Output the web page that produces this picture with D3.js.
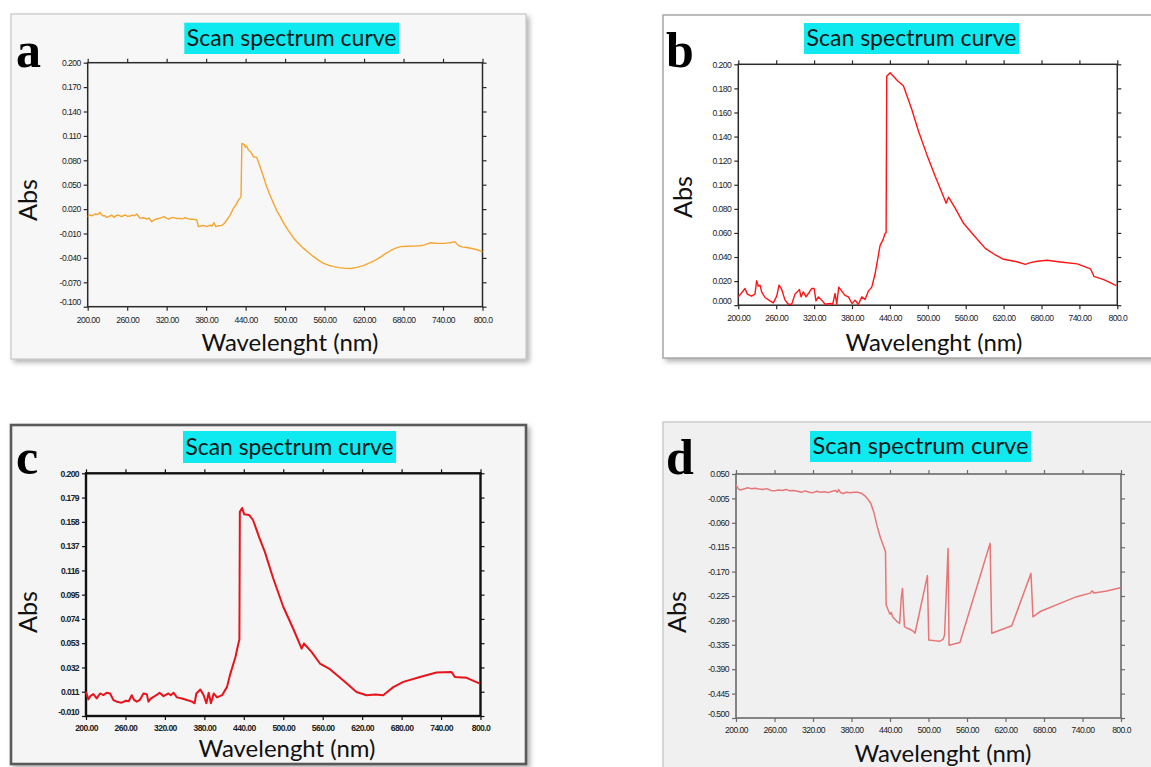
<!DOCTYPE html>
<html><head><meta charset="utf-8">
<script src="https://cdn.jsdelivr.net/npm/d3@7"></script>
<style>body{margin:0;background:#fff;} svg{display:block;}</style>
</head><body>
<svg id="chart" width="1151" height="767"></svg>
<script>
// ---------- data ----------
const chartTitle = "Scan spectrum curve";
const xAxisTitle = "Wavelenght (nm)";
const yAxisTitle = "Abs";
const panelLetters = ["a", "b", "c", "d"];

const xTickValues = [200, 260, 320, 380, 440, 500, 560, 620, 680, 740, 800];
const xTickLabels = ["200.00", "260.00", "320.00", "380.00", "440.00", "500.00", "560.00", "620.00", "680.00", "740.00", "800.0"];

const yTicksA = [0.200, 0.170, 0.140, 0.110, 0.080, 0.050, 0.020, -0.010, -0.040, -0.070, -0.100];
const yLabelsA = ["0.200", "0.170", "0.140", "0.110", "0.080", "0.050", "0.020", "-0.010", "-0.040", "-0.070", "-0.100"];
const yTicksB = [0.200, 0.180, 0.160, 0.140, 0.120, 0.100, 0.080, 0.060, 0.040, 0.020, 0.000];
const yLabelsB = ["0.200", "0.180", "0.160", "0.140", "0.120", "0.100", "0.080", "0.060", "0.040", "0.020", "0.000"];
const yTicksC = [0.200, 0.179, 0.158, 0.137, 0.116, 0.095, 0.074, 0.053, 0.032, 0.011, -0.010];
const yLabelsC = ["0.200", "0.179", "0.158", "0.137", "0.116", "0.095", "0.074", "0.053", "0.032", "0.011", "-0.010"];
const yTicksD = [0.050, -0.005, -0.060, -0.115, -0.170, -0.225, -0.280, -0.335, -0.390, -0.445, -0.500];
const yLabelsD = ["0.050", "-0.005", "-0.060", "-0.115", "-0.170", "-0.225", "-0.280", "-0.335", "-0.390", "-0.445", "-0.500"];

const wavelengthA = [200,203.5,207,211,215,218.8,221,223.8,226,229,233,236.5,240,243,246.6,251.7,256.8,260,264.4,268,271,274.6,279.6,284.6,289.8,293,297.4,301,305,310,316,319,322.8,326,330.4,335,340.5,344,348,352,355.7,360,365.8,368.4,372,376,381,386,389,392,394.7,399,403.8,407,411.5,416,421.6,426,429,433,434.3,437.6,439.5,441.7,444.2,448,451.8,456.9,462,467,472,477,482.5,487,492.6,497,502.7,509,515.4,522,528,535,543.3,550,558.5,566,573.7,582,591.5,600,609,619,629.5,638,645,652,660,668,676,686,695.7,705,711,716,721.5,729,736,742.4,748,752.8,758,763,768.5,776,784,792,800];
const absA = [0.0107,0.0127,0.0118,0.0140,0.0132,0.0160,0.0128,0.0115,0.0120,0.0098,0.0112,0.0127,0.0098,0.0118,0.0127,0.0107,0.0130,0.0112,0.0115,0.0125,0.0118,0.0140,0.0086,0.0094,0.0078,0.0090,0.0045,0.0068,0.0078,0.0090,0.0107,0.0092,0.0078,0.0090,0.0098,0.0084,0.0086,0.0080,0.0094,0.0082,0.0074,0.0076,0.0066,-0.0016,-0.0008,0.0000,-0.0016,0.0004,-0.0010,0.0033,-0.0016,-0.0004,0.0000,0.0020,0.0066,0.0120,0.0210,0.0265,0.0310,0.0350,0.1008,0.0996,0.0960,0.0975,0.0926,0.0900,0.0844,0.0836,0.0720,0.0600,0.0475,0.0370,0.0270,0.0185,0.0107,0.0040,-0.0037,-0.0110,-0.0180,-0.0235,-0.0283,-0.0330,-0.0385,-0.0425,-0.0467,-0.0490,-0.0508,-0.0520,-0.0529,-0.0530,-0.0516,-0.0495,-0.0459,-0.0425,-0.0390,-0.0350,-0.0312,-0.0280,-0.0262,-0.0256,-0.0255,-0.0250,-0.0243,-0.0228,-0.0214,-0.0220,-0.0222,-0.0222,-0.0215,-0.0210,-0.0200,-0.0245,-0.0264,-0.0272,-0.0284,-0.0300,-0.0325];

const wavelengthB = [200,205.3,210.6,214.3,221,226.4,229,231.7,234.3,237,242.3,250.2,255.5,260.8,264.5,268.7,274,279.2,284.5,289.8,293.5,296.7,299.3,303,307.2,311,316.2,320,323,326.8,332,337.4,345.3,349.5,353.2,355.8,359,363.8,369,374.3,380,385,390,395.5,400.7,406,411.3,416.6,424.5,428.8,432.5,434,435,440.3,445.6,450.9,461.5,474.7,485.3,498.5,511.7,525,529,532.8,543.3,556.6,572.4,591,607,620,641,654.5,662.3,673.3,689,710,736.6,757.7,763,778.5,798.6];
const absB = [0.0069,0.0103,0.0139,0.0092,0.0075,0.0092,0.0203,0.0158,0.0167,0.0111,0.0064,0.0036,0.0019,0.0075,0.0167,0.0131,0.0042,0.0008,0.0008,0.0092,0.0111,0.0131,0.0069,0.0111,0.0069,0.0097,0.0139,0.0139,0.0036,0.0069,0.0042,0.0008,0.0014,0.0008,0.0097,0.0008,0.0150,0.0117,0.0081,0.0069,0.0014,0.0042,0.0006,0.0069,0.0047,0.0117,0.0150,0.0261,0.0497,0.0540,0.0597,0.0603,0.1900,0.1930,0.1900,0.1870,0.1820,0.1625,0.1444,0.1250,0.1070,0.0900,0.0847,0.0897,0.0806,0.0680,0.0583,0.0472,0.0417,0.0381,0.0361,0.0339,0.0353,0.0365,0.0373,0.0359,0.0343,0.0301,0.0240,0.0213,0.0163];

const wavelengthC = [200,203.6,207,211.2,216.3,221.4,226.4,231.5,236.6,241.7,246.8,254.4,260.6,265,269.6,273,277.3,282,287.4,292.5,295,298.5,302.7,307,311.8,317.9,322,325.6,329,333.2,338.3,346,353.5,361.2,365.2,367.8,373.9,379,383,386.6,390,394.2,399.3,407,414.5,419.6,427.3,432.3,433.3,434,437.5,440.6,448,454,464,472,484.8,500,515,528,531.4,543,555.8,571,591,611.5,626.7,640,652,667.4,682.6,708,733,756,761,779,799];
const absC = [0.0109,0.0044,0.0075,0.0089,0.0052,0.0095,0.0081,0.0101,0.0095,0.0038,0.0024,0.0015,0.0032,0.0028,0.0080,0.0040,0.0024,0.0040,0.0095,0.0089,0.0024,0.0050,0.0066,0.0080,0.0101,0.0072,0.0085,0.0095,0.0080,0.0101,0.0061,0.0052,0.0038,0.0024,0.0010,0.0095,0.0129,0.0080,0.0010,0.0101,0.0010,0.0095,0.0061,0.0080,0.0152,0.0267,0.0410,0.0540,0.0560,0.1668,0.1700,0.1645,0.1640,0.1596,0.1437,0.1320,0.1090,0.0845,0.0657,0.0483,0.0527,0.0455,0.0354,0.0305,0.0210,0.0108,0.0080,0.0085,0.0080,0.0150,0.0195,0.0238,0.0276,0.0280,0.0238,0.0230,0.0180];

const wavelengthD = [200,203,206,212,218,224,230,236,242,248,254,260,266,272,278,284,290,296,302,308,314,320,326,332,338,344,350,355,358,360,363,367,372,378,384,390,396,400,405,410,415,420,425,430,433,434,437,440,442,444,448,452,455,457.5,459.5,460.5,462.5,466,471,476,479,498.3,500.4,510,518,523,525,530.5,532,549,596,598.6,629.8,659.7,662.8,674,705,731,752,755,758,778,799];
const absD = [0.025,0.018,0.014,0.016,0.019,0.017,0.018,0.016,0.015,0.017,0.013,0.012,0.014,0.013,0.015,0.012,0.013,0.011,0.009,0.012,0.009,0.008,0.011,0.009,0.010,0.008,0.011,0.013,0.009,0.015,0.008,0.006,0.009,0.008,0.009,0.009,0.006,0.002,-0.006,-0.016,-0.037,-0.068,-0.093,-0.113,-0.125,-0.245,-0.256,-0.266,-0.262,-0.272,-0.278,-0.284,-0.287,-0.230,-0.208,-0.238,-0.294,-0.297,-0.300,-0.304,-0.309,-0.179,-0.324,-0.326,-0.327,-0.322,-0.313,-0.118,-0.336,-0.330,-0.106,-0.309,-0.292,-0.174,-0.272,-0.260,-0.2415,-0.2265,-0.2185,-0.2135,-0.218,-0.2137,-0.2062];

// ---------- layout / style ----------
const panels = [
  { letter: panelLetters[0], xs: wavelengthA, ys: absA, yTicks: yTicksA, yLabels: yLabelsA, yDomain: [-0.100, 0.200],
    frame: {x: 11, y: 14, w: 515, h: 345, fill: "#f7f7f7", stroke: "#c6c6c6", sw: 1.2},
    plot: {l: 87.7, r: 482.5, t: 62.7, b: 306.7},
    title: {x: 184.3, y: 22.7, w: 214.7, h: 31.3},
    letterPos: {x: 16, y: 67}, absPos: {x: 28, y: 200}, xlab: {cx: 290, y: 351}, xtickY: 323,
    line: "#f6a531", lw: 1.4, axis: "#2a2a2a", aw: 1.5, bold: false },
  { letter: panelLetters[1], xs: wavelengthB, ys: absB, yTicks: yTicksB, yLabels: yLabelsB, yDomain: [0.000, 0.200],
    frame: {x: 663, y: 15, w: 500, h: 343, fill: "#ffffff", stroke: "#a8a8a8", sw: 1.5},
    plot: {l: 738.3, r: 1117.3, t: 64.3, b: 305.2},
    title: {x: 804, y: 23, w: 215, h: 31},
    letterPos: {x: 666, y: 67}, absPos: {x: 683, y: 197}, xlab: {cx: 934, y: 351}, xtickY: 321,
    line: "#ff1414", lw: 1.4, axis: "#2a2a2a", aw: 1.5, bold: false },
  { letter: panelLetters[2], xs: wavelengthC, ys: absC, yTicks: yTicksC, yLabels: yLabelsC, yDomain: [-0.010, 0.200],
    frame: {x: 11, y: 425, w: 515, h: 339, fill: "#f5f5f5", stroke: "#5a5a5a", sw: 2.6},
    plot: {l: 86, r: 480.5, t: 473.3, b: 716},
    title: {x: 183, y: 431, w: 213, h: 32},
    letterPos: {x: 16, y: 474}, absPos: {x: 28, y: 612}, xlab: {cx: 287, y: 757}, xtickY: 731,
    line: "#e8141c", lw: 2, axis: "#111111", aw: 2.4, bold: true },
  { letter: panelLetters[3], xs: wavelengthD, ys: absD, yTicks: yTicksD, yLabels: yLabelsD, yDomain: [-0.500, 0.050],
    frame: {x: 663, y: 422, w: 500, h: 360, fill: "#f0f0f0", stroke: "#c4c4c4", sw: 1.2},
    plot: {l: 736, r: 1121, t: 474, b: 718},
    title: {x: 810, y: 431, w: 221, h: 31},
    letterPos: {x: 666, y: 474}, absPos: {x: 677, y: 612}, xlab: {cx: 943, y: 762}, xtickY: 733,
    line: "#e87676", lw: 1.5, axis: "#6a6a6a", aw: 1.6, bold: false }
];

const svg = d3.select("#chart");
svg.append("rect").attr("width", 1151).attr("height", 767).attr("fill", "#ffffff");
const defs = svg.append("defs");
const f = defs.append("filter").attr("id", "shadow").attr("x", "-5%").attr("y", "-5%").attr("width", "115%").attr("height", "115%");
f.append("feDropShadow").attr("dx", 3).attr("dy", 3).attr("stdDeviation", 2.5)
  .attr("flood-color", "#777").attr("flood-opacity", 0.55);

function fit(sel, target) {
  const w = sel.node().getComputedTextLength();
  const fs = parseFloat(sel.attr("font-size"));
  sel.attr("font-size", fs * target / w);
}

panels.forEach(p => {
  const g = svg.append("g");
  const fr = p.frame;
  g.append("rect").attr("x", fr.x).attr("y", fr.y).attr("width", fr.w).attr("height", fr.h)
    .attr("fill", fr.fill).attr("stroke", fr.stroke).attr("stroke-width", fr.sw).attr("filter", "url(#shadow)");

  const x = d3.scaleLinear().domain([200, 800]).range([p.plot.l, p.plot.r]);
  const y = d3.scaleLinear().domain(p.yDomain).range([p.plot.b, p.plot.t]);

  const tickFont = "'Liberation Sans', Arial, sans-serif";
  const styleAxis = (ax) => {
    ax.select(".domain").remove();
    ax.selectAll(".tick line").attr("stroke", p.axis).attr("stroke-width", 1.2);
    ax.selectAll(".tick text").attr("fill", "#222").attr("font-family", tickFont)
      .attr("font-size", p.bold ? 8.6 : 8.6).attr("font-weight", p.bold ? "bold" : "normal")
      .attr("letter-spacing", p.bold ? "-0.6px" : "-0.55px");
  };

  // left
  const axL = g.append("g").attr("transform", `translate(${p.plot.l},0)`)
    .call(d3.axisLeft(y).tickValues(p.yTicks).tickFormat((d, i) => p.yLabels[i]).tickSize(4).tickSizeOuter(0).tickPadding(3));
  styleAxis(axL);
  axL.selectAll(".tick text").filter((d, i) => i === p.yTicks.length - 1).attr("dy", "-0.2em");
  // right
  const axR = g.append("g").attr("transform", `translate(${p.plot.r},0)`)
    .call(d3.axisRight(y).tickValues(p.yTicks).tickFormat("").tickSize(4).tickSizeOuter(0));
  styleAxis(axR);
  // bottom
  const axB = g.append("g").attr("transform", `translate(0,${p.plot.b})`)
    .call(d3.axisBottom(x).tickValues(xTickValues).tickFormat((d, i) => xTickLabels[i]).tickSize(4).tickSizeOuter(0).tickPadding(3));
  styleAxis(axB);
  axB.selectAll(".tick text").attr("y", null).attr("dy", null)
    .attr("transform", `translate(0,${p.xtickY - p.plot.b})`);
  // top
  const axT = g.append("g").attr("transform", `translate(0,${p.plot.t})`)
    .call(d3.axisTop(x).tickValues(xTickValues).tickFormat("").tickSize(4).tickSizeOuter(0));
  styleAxis(axT);

  // plot frame
  g.append("rect").attr("x", p.plot.l).attr("y", p.plot.t)
    .attr("width", p.plot.r - p.plot.l).attr("height", p.plot.b - p.plot.t)
    .attr("fill", "none").attr("stroke", p.axis).attr("stroke-width", p.aw);

  // curve
  const pts = p.xs.map((v, i) => [v, p.ys[i]]);
  g.append("path").datum(pts)
    .attr("d", d3.line().x(d => x(d[0])).y(d => y(d[1])))
    .attr("fill", "none").attr("stroke", p.line).attr("stroke-width", p.lw)
    .attr("stroke-linejoin", "round");

  // title box
  g.append("rect").attr("x", p.title.x).attr("y", p.title.y).attr("width", p.title.w).attr("height", p.title.h)
    .attr("fill", "#0eeaf0");
  const tt = g.append("text").attr("x", p.title.x + p.title.w / 2).attr("y", p.title.y + p.title.h * 0.74)
    .attr("text-anchor", "middle").attr("font-family", "Lato, 'Open Sans', sans-serif")
    .attr("font-size", 24).attr("fill", "#0b1717").text(chartTitle);
  fit(tt, p.title.w - 5);

  // panel letter
  g.append("text").attr("x", p.letterPos.x).attr("y", p.letterPos.y)
    .attr("font-family", "'Liberation Serif', 'Times New Roman', serif").attr("font-weight", "bold")
    .attr("font-size", 50).attr("fill", "#000").text(p.letter);

  // y title
  const yt = g.append("text").attr("transform", `translate(${p.absPos.x + 9},${p.absPos.y}) rotate(-90)`)
    .attr("text-anchor", "middle").attr("font-family", "Lato, 'Open Sans', sans-serif")
    .attr("font-size", 26).attr("fill", "#111").text(yAxisTitle);
  fit(yt, 42);

  // x title
  const xt = g.append("text").attr("x", p.xlab.cx).attr("y", p.xlab.y)
    .attr("text-anchor", "middle").attr("font-family", "Lato, 'Open Sans', sans-serif")
    .attr("font-size", 24).attr("fill", "#111").text(xAxisTitle);
  fit(xt, 177);
});
</script>
</body></html>
